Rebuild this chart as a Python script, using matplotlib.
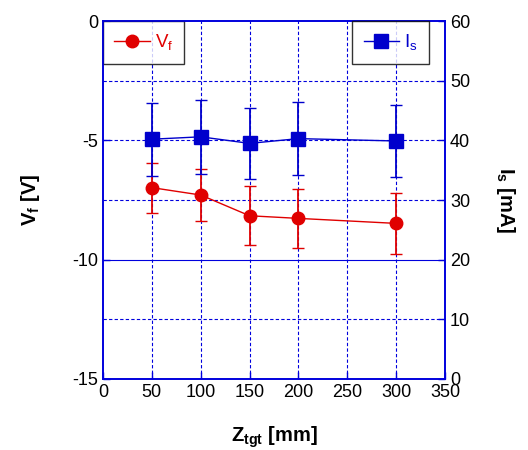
import numpy as np
import matplotlib
matplotlib.use("Agg")
import matplotlib.pyplot as plt
from matplotlib.lines import Line2D

plt.rcParams['font.family'] = ['Liberation Sans', 'DejaVu Sans']
plt.rcParams['mathtext.fontset'] = 'custom'
plt.rcParams['mathtext.rm'] = 'Liberation Sans'
plt.rcParams['mathtext.bf'] = 'Liberation Sans:bold'
plt.rcParams['axes.unicode_minus'] = False

# data
z_tgt = [50, 100, 150, 200, 300]
vf = [-6.98, -7.29, -8.16, -8.27, -8.48]
vf_err = [1.05, 1.09, 1.24, 1.24, 1.27]
i_s = [40.2, 40.6, 39.5, 40.3, 39.9]
i_s_err = [6.1, 6.2, 6.0, 6.1, 6.0]

x_ticks = [0, 50, 100, 150, 200, 250, 300, 350]
vf_ticks = [-15, -10, -5, 0]
is_ticks = [0, 10, 20, 30, 40, 50, 60]

grid_col = '#0000dd'
red = '#e00000'
blue = '#0000cc'

fig = plt.figure(figsize=(5.28, 4.5), dpi=100)
ax = fig.add_axes([0.195, 0.158, 0.648, 0.795])
ax2 = ax.twinx()

# grid (drawn on the left axes, in its units)
for xv in x_ticks[1:-1]:
    ax.axvline(xv, color=grid_col, lw=0.8, ls=(0, (3, 2)), zorder=0)
for iv in is_ticks[1:-1]:
    yv = -15 + iv / 4.0
    ls = '-' if iv == 20 else (0, (3, 2))
    ax.axhline(yv, color=grid_col, lw=0.8, ls=ls, zorder=0)

ax.errorbar(z_tgt, vf, yerr=vf_err, color=red, marker='o', ms=9,
            lw=1.0, elinewidth=1.3, capsize=4, capthick=1.0)
ax2.errorbar(z_tgt, i_s, yerr=i_s_err, color=blue, marker='s', ms=10,
             lw=1.0, elinewidth=1.3, capsize=4, capthick=1.0)

ax.set_xlim(0, 350)
ax.set_ylim(-15, 0)
ax2.set_ylim(0, 60)
ax.set_xticks(x_ticks)
ax.set_yticks(vf_ticks)
ax2.set_yticks(is_ticks)

for a in (ax, ax2):
    for s in a.spines.values():
        s.set_color(grid_col)
        s.set_linewidth(1.2)
    a.tick_params(direction='in', color=grid_col, labelsize=13, length=5, width=1)

ax.set_xlabel('Z$_\\mathbf{tgt}$ [mm]', fontsize=14.5, fontweight='bold', labelpad=17)
ax.set_ylabel('V$_\\mathbf{f}$ [V]', fontsize=14.5, fontweight='bold', labelpad=22)
ax2.set_ylabel('I$_\\mathbf{s}$ [mA]', fontsize=14.5, fontweight='bold', rotation=-90, labelpad=34)

h1 = Line2D([], [], color=red, marker='o', ms=9, lw=1.0)
h2 = Line2D([], [], color=blue, marker='s', ms=10, lw=1.0)

leg1 = ax.legend([h1], ['V$_\\mathregular{f}$'], loc='upper left', fontsize=13.5,
                 frameon=True, fancybox=False, edgecolor='black', borderaxespad=0,
                 handlelength=1.9, handletextpad=0.25, borderpad=0.6)
leg1.get_frame().set_linewidth(1.0)
for t in leg1.get_texts():
    t.set_color(red)
leg2 = ax2.legend([h2], ['I$_\\mathregular{s}$'], loc='upper right', fontsize=13.5,
                  frameon=True, fancybox=False, edgecolor='black',
                  bbox_to_anchor=(0.952, 1.0), borderaxespad=0,
                  handlelength=1.9, handletextpad=0.25, borderpad=0.6)
leg2.get_frame().set_linewidth(1.0)
for t in leg2.get_texts():
    t.set_color(blue)

fig.savefig('out.png', dpi=100)
